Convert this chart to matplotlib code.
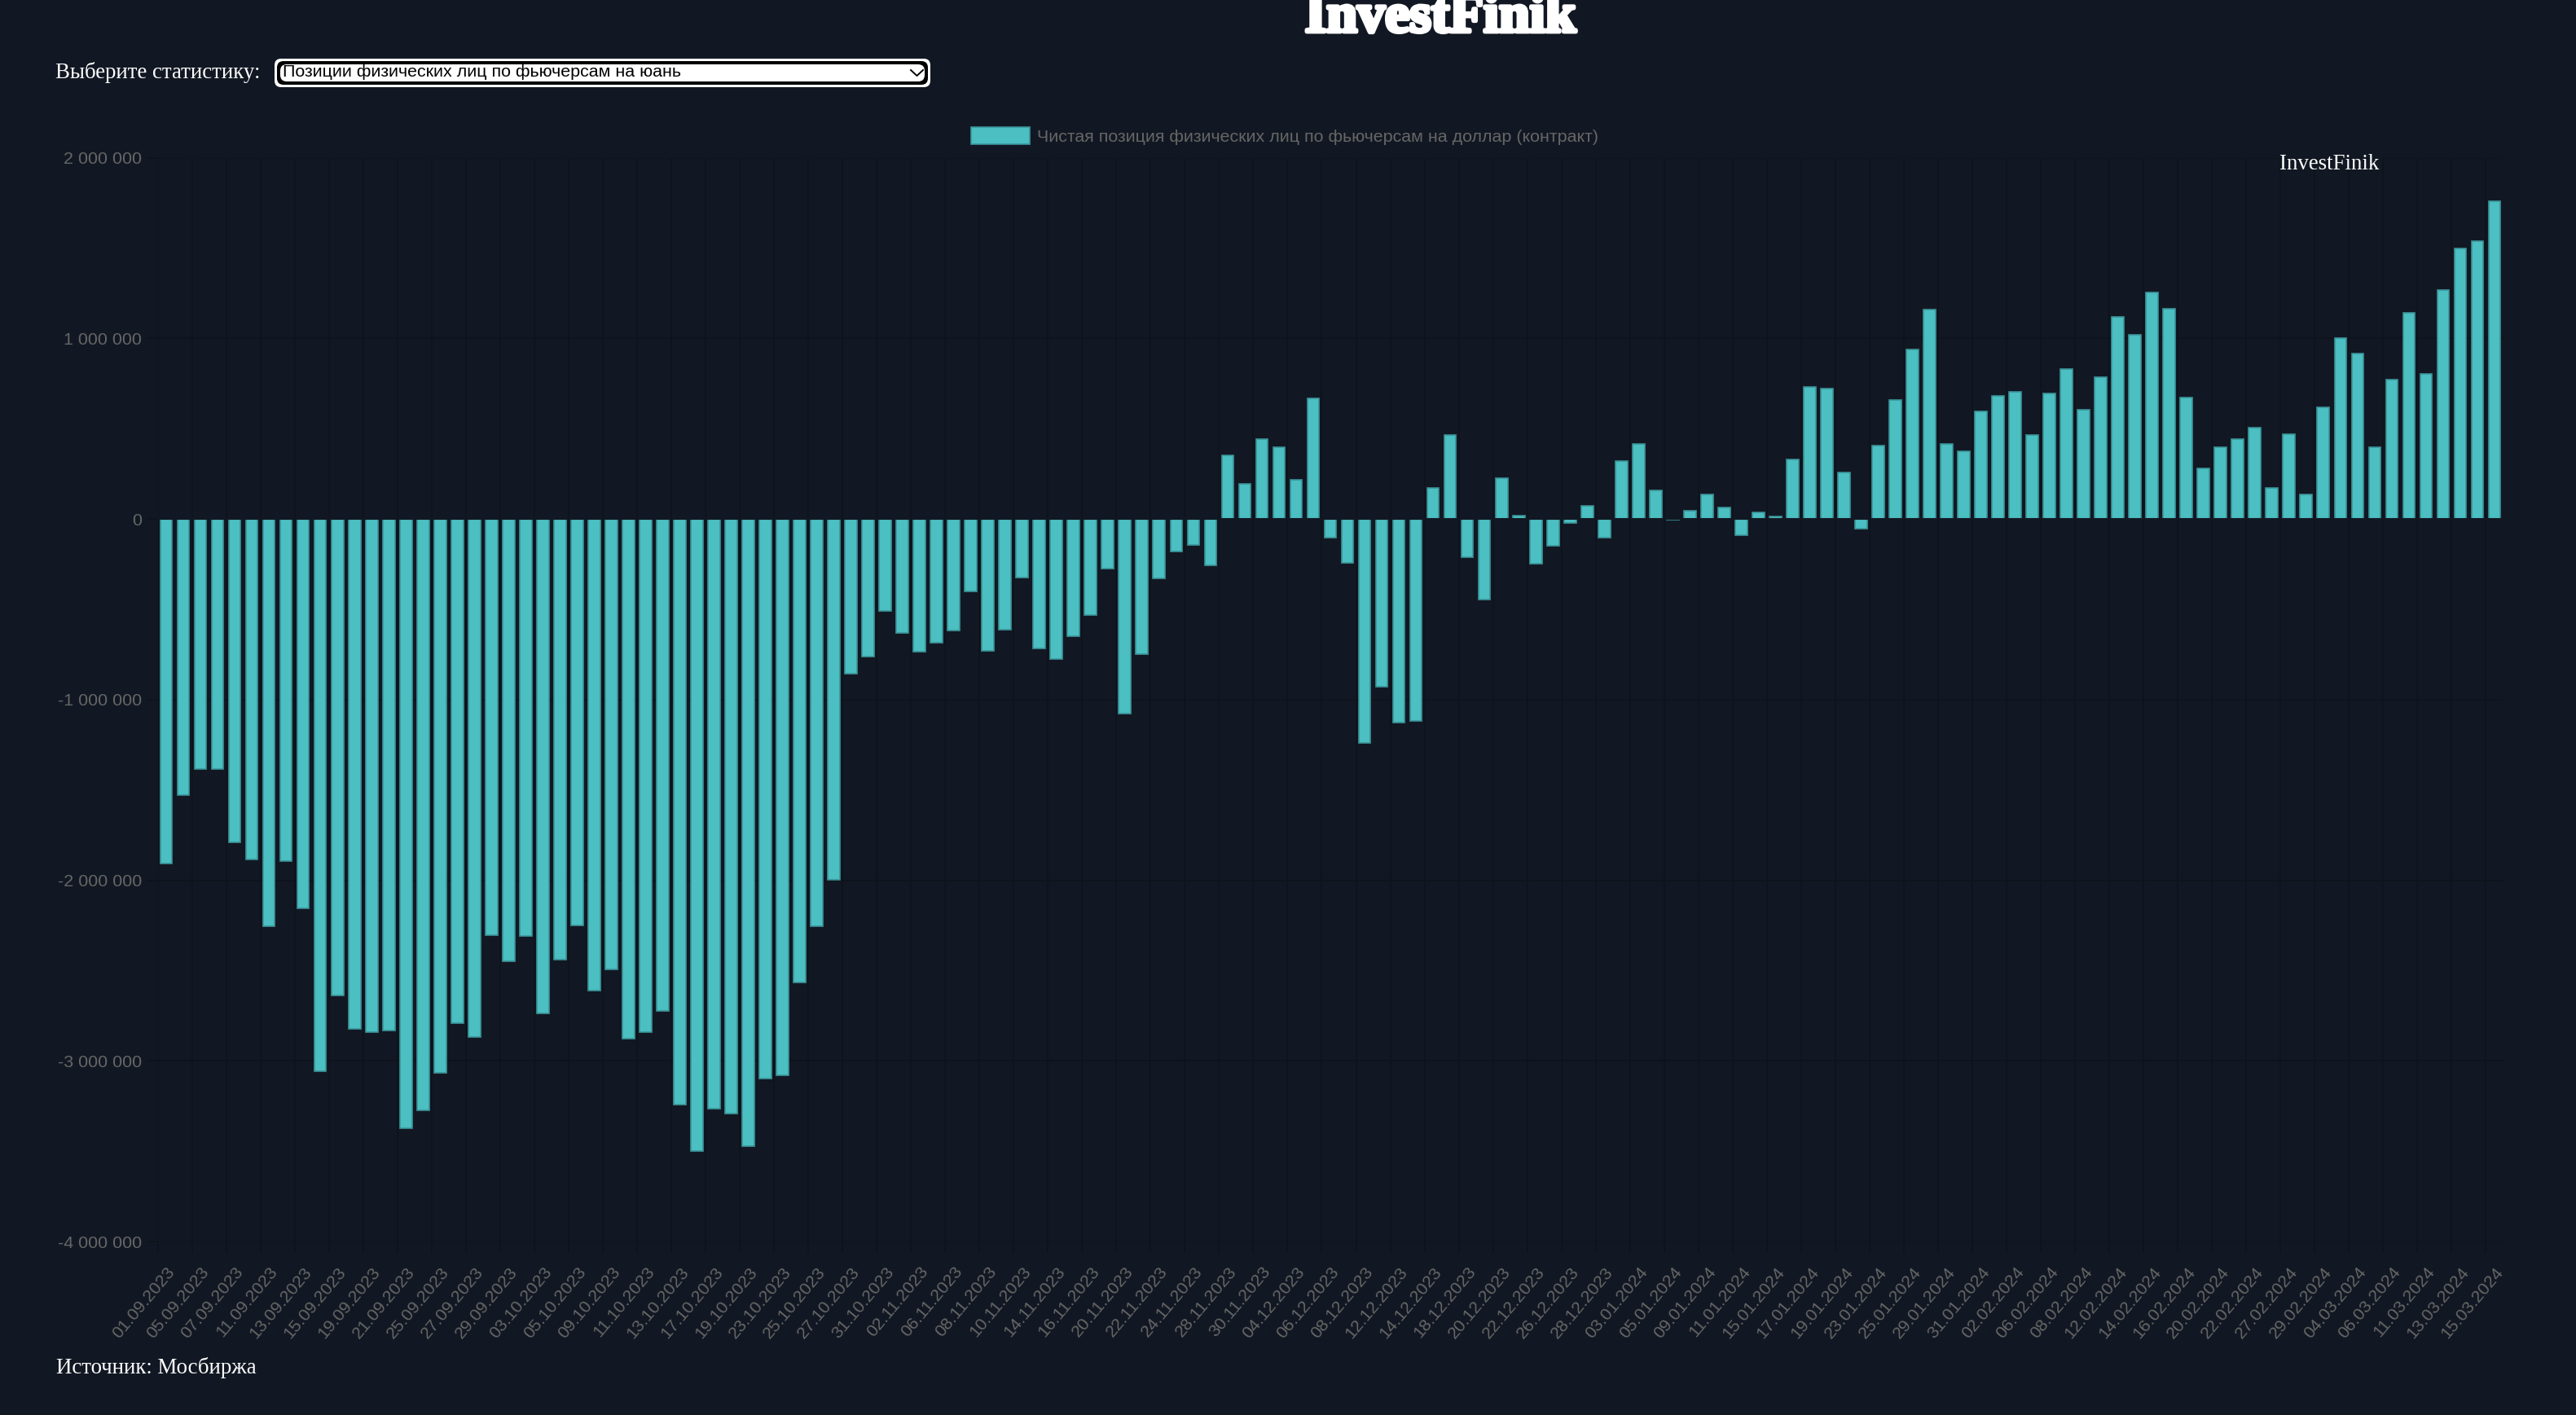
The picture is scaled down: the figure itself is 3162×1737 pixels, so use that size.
#!/usr/bin/env python3
"""
Net position of individuals in dollar futures, Moscow Exchange data.
"""

import matplotlib
matplotlib.use("Agg")
import matplotlib.pyplot as plt
import matplotlib.patheffects as pe
from matplotlib.patches import FancyBboxPatch
from matplotlib.ticker import FuncFormatter

# Every second date is shown on the axis
tick_labels = [
    "01.09.2023", "05.09.2023", "07.09.2023", "11.09.2023", "13.09.2023", "15.09.2023",
    "19.09.2023", "21.09.2023", "25.09.2023", "27.09.2023", "29.09.2023", "03.10.2023",
    "05.10.2023", "09.10.2023", "11.10.2023", "13.10.2023", "17.10.2023", "19.10.2023",
    "23.10.2023", "25.10.2023", "27.10.2023", "31.10.2023", "02.11.2023", "06.11.2023",
    "08.11.2023", "10.11.2023", "14.11.2023", "16.11.2023", "20.11.2023", "22.11.2023",
    "24.11.2023", "28.11.2023", "30.11.2023", "04.12.2023", "06.12.2023", "08.12.2023",
    "12.12.2023", "14.12.2023", "18.12.2023", "20.12.2023", "22.12.2023", "26.12.2023",
    "28.12.2023", "03.01.2024", "05.01.2024", "09.01.2024", "11.01.2024", "15.01.2024",
    "17.01.2024", "19.01.2024", "23.01.2024", "25.01.2024", "29.01.2024", "31.01.2024",
    "02.02.2024", "06.02.2024", "08.02.2024", "12.02.2024", "14.02.2024", "16.02.2024",
    "20.02.2024", "22.02.2024", "27.02.2024", "29.02.2024", "04.03.2024", "06.03.2024",
    "11.03.2024", "13.03.2024", "15.03.2024",
]

# Net position, contracts
positions_2023_autumn = [
    -1907000, -1530000, -1384000, -1386000, -1792000, -1885000, -2254000, -1892000,
    -2156000, -3059000, -2638000, -2822000, -2841000, -2834000, -3372000, -3274000,
    -3066000, -2792000, -2866000, -2306000, -2447000, -2311000, -2738000, -2438000,
    -2252000, -2611000, -2494000, -2875000, -2839000, -2724000, -3242000, -3499000,
    -3264000, -3293000, -3472000, -3098000, -3078000, -2567000, -2254000, -1998000,
    -855000, -763000, -509000, -630000, -736000, -685000, -619000, -401000,
    -732000, -613000, -325000, -717000, -775000, -651000, -532000, -277000,
    -1078000, -748000, -331000, -180000, -143000, -258000,
]
positions_2023_winter = [
    353000, 195000, 442000, 395000, 215000, 669000, -102000, -242000,
    -1240000, -930000, -1127000, -1118000, 173000, 466000, -212000, -445000,
    228000, 18000, -249000, -149000, -20000, 71000, -104000, 320000,
    416000, 156000, -6000, 44000, 134000, 65000, -90000, 36000,
    14000, 328000, 733000, 720000, 258000, -56000, 407000, 657000,
    940000, 1160000,
]
positions_2024 = [
    413000, 375000, 594000, 681000, 706000, 467000, 694000, 830000,
    603000, 786000, 1120000, 1020000, 1252000, 1163000, 673000, 280000,
    397000, 442000, 506000, 171000, 469000, 134000, 618000, 1001000,
    915000, 397000, 772000, 1141000, 803000, 1268000, 1497000, 1537000,
    1760000,
]
positions = positions_2023_autumn + positions_2023_winter + positions_2024

y_ticks = [-4000000, -3000000, -2000000, -1000000, 0, 1000000, 2000000]

site_name = "InvestFinik"
select_label = "Выберите статистику:"
select_value = "Позиции физических лиц по фьючерсам на юань"
series_name = "Чистая позиция физических лиц по фьючерсам на доллар (контракт)"
source_text = "Источник: Мосбиржа"

# Size of the page in pixels, used for everything around the chart
WIDTH = 3162
HEIGHT = 1737
BG = "#121823"
GRID = "#0e131b"
GRAY = "#666666"
BAR_FILL = "#4bbfc1"
BAR_EDGE = "#3b9499"


def draw_chart(fig):
    """Draw the bar chart itself"""
    left, right, top, bottom = 193.5, 3072.5, 193.6, 1524
    ax = fig.add_axes([left / WIDTH, 1 - bottom / HEIGHT,
                       (right - left) / WIDTH, (bottom - top) / HEIGHT])
    ax.set_facecolor(BG)

    xs = list(range(len(positions)))
    ax.bar(xs, positions, width=0.7, color=BAR_FILL, edgecolor=BAR_EDGE,
           linewidth=1.2, label=series_name, zorder=3)
    # Bars of both signs stop just short of the zero line
    ax.axhline(0, color=BG, linewidth=1.5, zorder=4)

    ax.set_xlim(-0.5, len(positions) - 0.5)
    ax.set_ylim(y_ticks[0], y_ticks[-1])

    ax.set_xticks(xs[::2])
    ax.set_xticklabels(tick_labels, rotation=50, ha="right", va="top",
                       rotation_mode="anchor", fontsize=15.4, color=GRAY,
                       family="Liberation Sans")
    ax.set_xticks([x - 0.5 for x in xs[::2]], minor=True)
    ax.tick_params(axis="x", which="major", length=0, pad=20)
    ax.tick_params(axis="x", which="minor", length=10, color=GRID, width=1.2)
    ax.grid(axis="x", which="minor", color=GRID, linewidth=1.2, zorder=1)

    ax.set_yticks(y_ticks)
    ax.yaxis.set_major_formatter(FuncFormatter(lambda v, pos: f"{v:,.0f}".replace(",", " ")))
    ax.tick_params(axis="y", length=10, pad=4, color=GRID, width=1.2,
                   labelsize=15.4, labelcolor=GRAY)
    for label in ax.get_yticklabels():
        label.set_family("Liberation Sans")
    ax.grid(axis="y", color=GRID, linewidth=1.2, zorder=1)

    for spine in ax.spines.values():
        spine.set_visible(False)

    legend = ax.legend(loc="center", bbox_to_anchor=(1577 / WIDTH, 1 - 167 / HEIGHT),
                       bbox_transform=fig.transFigure, frameon=False,
                       prop={"family": "Liberation Sans", "size": 15.4},
                       handlelength=3.38, handleheight=1.12, handletextpad=0.45)
    legend.get_texts()[0].set_color(GRAY)


def draw_page(fig):
    """Draw the page elements around the chart, in pixel coordinates"""
    page = fig.add_axes([0, 0, 1, 1], zorder=5)
    page.set_xlim(0, WIDTH)
    page.set_ylim(HEIGHT, 0)
    page.axis("off")

    page.text(1768, 39, site_name, color="white", ha="center", va="baseline",
              family="Liberation Serif", fontweight="bold", fontsize=49,
              path_effects=[pe.withStroke(linewidth=3.5, foreground="white")])

    page.text(68, 89, select_label, color="white", ha="left", va="center",
              family="Liberation Serif", fontsize=19.4)

    # Drop-down box: white ring, black ring, white field
    for pad, color in [(0, "white"), (3, "black"), (7, "white")]:
        page.add_patch(FancyBboxPatch((337 + pad + 8, 72 + pad + 8),
                                      805 - 2 * pad - 16, 35 - 2 * pad - 16,
                                      boxstyle="round,pad=8,rounding_size=8",
                                      facecolor=color, edgecolor="none"))
    page.text(347, 89, select_value, color="black", ha="left", va="center",
              family="Liberation Sans", fontsize=15.4)
    page.plot([1118, 1125.5, 1133], [86, 93, 86], color="black", linewidth=1.4)

    page.text(2859, 201, site_name, color="white", ha="center", va="center",
              family="Liberation Serif", fontsize=19.4)

    page.text(69, 1679, source_text, color="white", ha="left", va="center",
              family="Liberation Serif", fontsize=19.4)


def main():
    """Build the figure and save it"""
    fig = plt.figure(figsize=(WIDTH / 100, HEIGHT / 100), dpi=100, facecolor=BG)
    draw_chart(fig)
    draw_page(fig)
    fig.savefig("out.png", dpi=100, facecolor=BG)


if __name__ == "__main__":
    main()
